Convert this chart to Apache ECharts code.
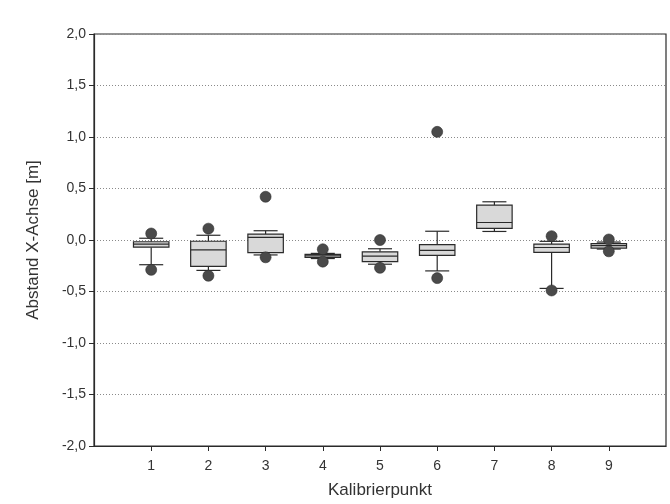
<!DOCTYPE html>
<html>
<head>
<meta charset="utf-8">
<script src="https://cdn.jsdelivr.net/npm/echarts@6/dist/echarts.min.js"></script>
<style>
  html, body { margin: 0; padding: 0; background: #ffffff; }
  #chart { width: 670px; height: 504px; }
</style>
</head>
<body>
<div id="chart"></div>
<script>
// Calibration points (x positions)
const categories = [1, 2, 3, 4, 5, 6, 7, 8, 9];
// Box plot statistics per calibration point [m]
const mins    = [-0.24, -0.295, -0.145, -0.18, -0.235, -0.30, 0.083, -0.47, -0.088];
const q1s     = [-0.07, -0.257, -0.123, -0.17, -0.21, -0.15, 0.112, -0.12, -0.078];
const medians = [-0.04, -0.095,  0.025, -0.155, -0.157, -0.10, 0.17, -0.073, -0.055];
const q3s     = [-0.017, -0.012, 0.058, -0.14, -0.115, -0.045, 0.338, -0.04, -0.035];
const maxs    = [0.017, 0.046, 0.09, -0.13, -0.085, 0.085, 0.371, -0.013, -0.02];
// Outlier points (above / below), null = none
const outHigh = [0.063, 0.11, 0.42, -0.09, 0.0, 1.05, null, 0.037, 0.005];
const outLow  = [-0.29, -0.347, -0.168, -0.21, -0.27, -0.37, null, -0.49, -0.11];
// Axis ticks
const yTicks = [-2.0, -1.5, -1.0, -0.5, 0.0, 0.5, 1.0, 1.5, 2.0];
const xTicks = [1, 2, 3, 4, 5, 6, 7, 8, 9];

const boxData = categories.map((c, i) => [c, mins[i], q1s[i], medians[i], q3s[i], maxs[i]]);
const outlierData = [];
categories.forEach((c, i) => {
  if (outHigh[i] !== null) outlierData.push([c, outHigh[i]]);
  if (outLow[i] !== null) outlierData.push([c, outLow[i]]);
});

const lineColor = '#2a2a2a';
const font = '"Liberation Sans", Arial, sans-serif';

function renderBox(params, api) {
  const x = api.value(0);
  const pMin = api.coord([x, api.value(1)]);
  const pQ1 = api.coord([x, api.value(2)]);
  const pMed = api.coord([x, api.value(3)]);
  const pQ3 = api.coord([x, api.value(4)]);
  const pMax = api.coord([x, api.value(5)]);
  const unit = api.size([1, 0])[0];
  const bw = unit * 0.62;
  const cw = unit * 0.42;
  const cx = pMed[0];
  const st = { stroke: lineColor, lineWidth: 1.2 };
  return {
    type: 'group',
    children: [
      { type: 'line', shape: { x1: cx, y1: pQ3[1], x2: cx, y2: pMax[1] }, style: st },
      { type: 'line', shape: { x1: cx, y1: pQ1[1], x2: cx, y2: pMin[1] }, style: st },
      { type: 'line', shape: { x1: cx - cw / 2, y1: pMax[1], x2: cx + cw / 2, y2: pMax[1] }, style: st },
      { type: 'line', shape: { x1: cx - cw / 2, y1: pMin[1], x2: cx + cw / 2, y2: pMin[1] }, style: st },
      { type: 'rect', shape: { x: cx - bw / 2, y: pQ3[1], width: bw, height: pQ1[1] - pQ3[1] },
        style: { fill: '#d9d9d9', stroke: lineColor, lineWidth: 1.2 } },
      { type: 'line', shape: { x1: cx - bw / 2, y1: pMed[1], x2: cx + bw / 2, y2: pMed[1] }, style: st }
    ]
  };
}

const chart = echarts.init(document.getElementById('chart'), null, { renderer: 'canvas' });
chart.setOption({
  animation: false,
  backgroundColor: '#ffffff',
  grid: {
    left: 94, right: 4, top: 34, bottom: 58,
    show: true, borderColor: lineColor, borderWidth: 1.2, backgroundColor: 'transparent'
  },
  xAxis: {
    type: 'value',
    min: 0, max: 10, interval: 1,
    name: 'Kalibrierpunkt',
    nameLocation: 'middle',
    nameGap: 36,
    nameTextStyle: { fontFamily: font, fontSize: 17, color: '#333' },
    axisLine: { show: true, onZero: false, lineStyle: { color: lineColor, width: 1.2 } },
    axisTick: { show: true, inside: false, length: 5, customValues: xTicks, lineStyle: { color: lineColor } },
    axisLabel: {
      customValues: xTicks,
      margin: 13,
      fontFamily: font, fontSize: 14, color: '#333',
      formatter: v => (v >= 1 && v <= 9) ? String(v) : ''
    },
    splitLine: { show: false }
  },
  yAxis: {
    type: 'value',
    min: -2, max: 2, interval: 0.5,
    name: 'Abstand X-Achse [m]',
    nameLocation: 'middle',
    nameGap: 52,
    nameTextStyle: { fontFamily: font, fontSize: 17, color: '#333' },
    axisLine: { show: true, lineStyle: { color: lineColor, width: 1.2 } },
    axisTick: { show: true, inside: false, length: 5, lineStyle: { color: lineColor } },
    axisLabel: {
      margin: 8,
      fontFamily: font, fontSize: 14, color: '#333',
      formatter: v => v.toFixed(1).replace('.', ',')
    },
    splitLine: { show: true, lineStyle: { color: '#8a8a8a', width: 1, type: [1, 2] } }
  },
  series: [
    {
      type: 'custom',
      name: 'Box',
      renderItem: renderBox,
      encode: { x: 0, y: [1, 2, 3, 4, 5] },
      data: boxData,
      z: 2
    },
    {
      type: 'scatter',
      name: 'Ausreißer',
      data: outlierData,
      symbol: 'circle',
      symbolSize: 11,
      itemStyle: { color: '#4a4a4a', borderColor: '#2e2e2e', borderWidth: 0.6, opacity: 1 },
      z: 3
    }
  ]
});
</script>
</body>
</html>
